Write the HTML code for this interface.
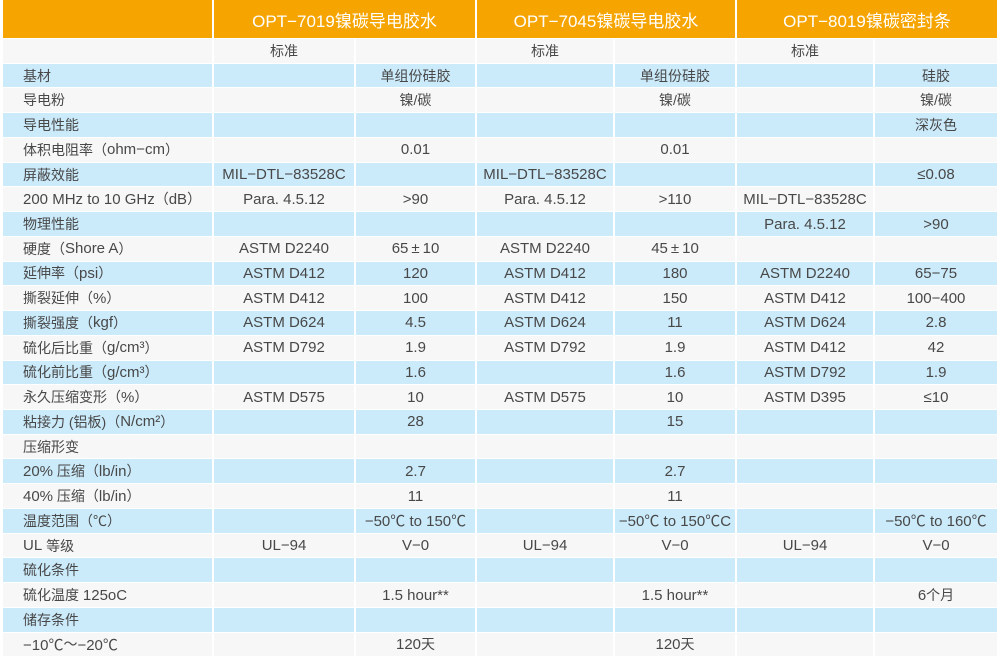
<!DOCTYPE html>
<html><head><meta charset="utf-8">
<style>
html,body{margin:0;padding:0;background:#fff;width:1000px;height:660px;overflow:hidden}
.t{position:absolute;left:3px;top:0;width:994px;display:grid;
grid-template-columns:209px 140px 119px 136px 120px 136px 122px;
grid-template-rows:38px repeat(25,23.74px);column-gap:2px;row-gap:1px;
font-family:"Liberation Sans","Noto Sans CJK SC",sans-serif;font-size:14px;color:#484848}
.t>div{display:flex;align-items:center;justify-content:center;white-space:nowrap;overflow:hidden}
.h{background:#F6A400;color:#fff;font-size:17px}
.h2{grid-column:span 2}
.g{background:#F7F7F7}
.b{background:#CBEAFA}
.t>div.f{justify-content:flex-start;padding-left:20px}
.l{font-size:15px}
</style></head><body>
<div class="t">
<div class="h"></div><div class="h h2">OPT−7019镍碳导电胶水</div><div class="h h2">OPT−7045镍碳导电胶水</div><div class="h h2">OPT−8019镍碳密封条</div>

<div class="g f"></div><div class="g">标准</div><div class="g"></div><div class="g">标准</div><div class="g"></div><div class="g">标准</div><div class="g"></div>

<div class="b f">基材</div><div class="b"></div><div class="b">单组份硅胶</div><div class="b"></div><div class="b">单组份硅胶</div><div class="b"></div><div class="b">硅胶</div>

<div class="g f">导电粉</div><div class="g"></div><div class="g">镍/碳</div><div class="g"></div><div class="g">镍/碳</div><div class="g"></div><div class="g">镍/碳</div>

<div class="b f">导电性能</div><div class="b"></div><div class="b"></div><div class="b"></div><div class="b"></div><div class="b"></div><div class="b">深灰色</div>

<div class="g f">体积电阻率（<span class="l">ohm−cm</span>）</div><div class="g"></div><div class="g l">0.01</div><div class="g"></div><div class="g l">0.01</div><div class="g"></div><div class="g"></div>

<div class="b f">屏蔽效能</div><div class="b l">MIL−DTL−83528C</div><div class="b"></div><div class="b l">MIL−DTL−83528C</div><div class="b"></div><div class="b"></div><div class="b l">≤0.08</div>

<div class="g f"><span class="l">200 MHz to 10 GHz</span>（<span class="l">dB</span>）</div><div class="g l">Para. 4.5.12</div><div class="g l">&gt;90</div><div class="g l">Para. 4.5.12</div><div class="g l">&gt;110</div><div class="g l">MIL−DTL−83528C</div><div class="g"></div>

<div class="b f">物理性能</div><div class="b"></div><div class="b"></div><div class="b"></div><div class="b"></div><div class="b l">Para. 4.5.12</div><div class="b l">&gt;90</div>

<div class="g f">硬度（<span class="l">Shore A</span>）</div><div class="g l">ASTM D2240</div><div class="g l">65&thinsp;±&thinsp;10</div><div class="g l">ASTM D2240</div><div class="g l">45&thinsp;±&thinsp;10</div><div class="g"></div><div class="g"></div>

<div class="b f">延伸率（<span class="l">psi</span>）</div><div class="b l">ASTM D412</div><div class="b l">120</div><div class="b l">ASTM D412</div><div class="b l">180</div><div class="b l">ASTM D2240</div><div class="b l">65−75</div>

<div class="g f">撕裂延伸（<span class="l">%</span>）</div><div class="g l">ASTM D412</div><div class="g l">100</div><div class="g l">ASTM D412</div><div class="g l">150</div><div class="g l">ASTM D412</div><div class="g l">100−400</div>

<div class="b f">撕裂强度（<span class="l">kgf</span>）</div><div class="b l">ASTM D624</div><div class="b l">4.5</div><div class="b l">ASTM D624</div><div class="b l">11</div><div class="b l">ASTM D624</div><div class="b l">2.8</div>

<div class="g f">硫化后比重（<span class="l">g/cm³</span>）</div><div class="g l">ASTM D792</div><div class="g l">1.9</div><div class="g l">ASTM D792</div><div class="g l">1.9</div><div class="g l">ASTM D412</div><div class="g l">42</div>

<div class="b f">硫化前比重（<span class="l">g/cm³</span>）</div><div class="b"></div><div class="b l">1.6</div><div class="b"></div><div class="b l">1.6</div><div class="b l">ASTM D792</div><div class="b l">1.9</div>

<div class="g f">永久压缩变形（<span class="l">%</span>）</div><div class="g l">ASTM D575</div><div class="g l">10</div><div class="g l">ASTM D575</div><div class="g l">10</div><div class="g l">ASTM D395</div><div class="g l">≤10</div>

<div class="b f">粘接力 (铝板)（<span class="l">N/cm²</span>）</div><div class="b"></div><div class="b l">28</div><div class="b"></div><div class="b l">15</div><div class="b"></div><div class="b"></div>

<div class="g f">压缩形变</div><div class="g"></div><div class="g"></div><div class="g"></div><div class="g"></div><div class="g"></div><div class="g"></div>

<div class="b f"><span class="l">20%</span>&nbsp;压缩（<span class="l">lb/in</span>）</div><div class="b"></div><div class="b l">2.7</div><div class="b"></div><div class="b l">2.7</div><div class="b"></div><div class="b"></div>

<div class="g f"><span class="l">40%</span>&nbsp;压缩（<span class="l">lb/in</span>）</div><div class="g"></div><div class="g l">11</div><div class="g"></div><div class="g l">11</div><div class="g"></div><div class="g"></div>

<div class="b f">温度范围（℃）</div><div class="b"></div><div class="b l">−50℃ to 150℃</div><div class="b"></div><div class="b l">−50℃ to 150℃C</div><div class="b"></div><div class="b l">−50℃ to 160℃</div>

<div class="g f"><span class="l">UL</span>&nbsp;等级</div><div class="g l">UL−94</div><div class="g l">V−0</div><div class="g l">UL−94</div><div class="g l">V−0</div><div class="g l">UL−94</div><div class="g l">V−0</div>

<div class="b f">硫化条件</div><div class="b"></div><div class="b"></div><div class="b"></div><div class="b"></div><div class="b"></div><div class="b"></div>

<div class="g f">硫化温度&nbsp;<span class="l">125oC</span></div><div class="g"></div><div class="g l">1.5 hour**</div><div class="g"></div><div class="g l">1.5 hour**</div><div class="g"></div><div class="g"><span class="l">6</span>个月</div>

<div class="b f">储存条件</div><div class="b"></div><div class="b"></div><div class="b"></div><div class="b"></div><div class="b"></div><div class="b"></div>

<div class="g f"><span class="l">−10℃</span>～<span class="l">−20℃</span></div><div class="g"></div><div class="g"><span class="l">120</span>天</div><div class="g"></div><div class="g"><span class="l">120</span>天</div><div class="g"></div><div class="g"></div>
</div>
</body></html>
